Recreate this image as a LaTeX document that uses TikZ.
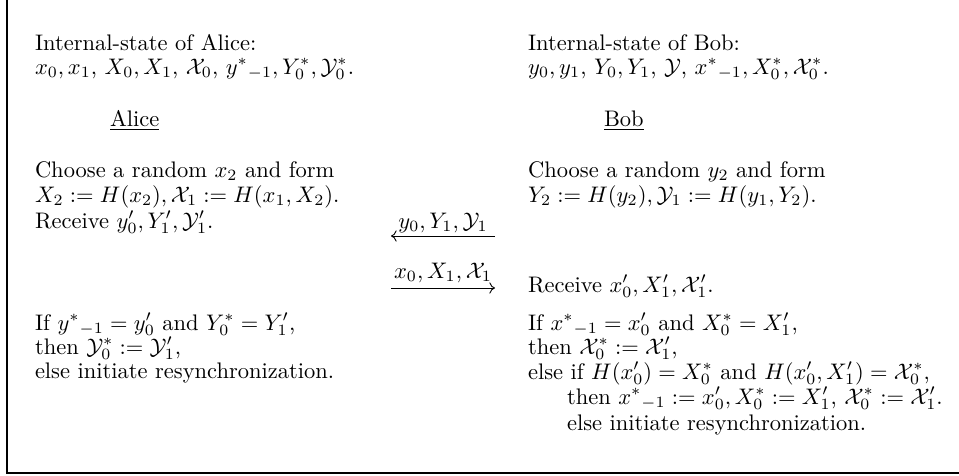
\documentclass[tikz,border=0pt]{standalone}
\usetikzlibrary{arrows.meta}
\begin{document}
\begin{tikzpicture}[x=0.4444pt,y=-0.4444pt,
  txt/.style={anchor=base west, inner sep=0pt, outer sep=0pt},
  lbl/.style={anchor=base, inner sep=0pt, outer sep=0pt},
  msg/.style={line width=0.4pt, -{To[length=2.5pt,width=5pt]}},
  frame/.style={line width=0.7pt}]
\useasboundingbox (0,0) rectangle (959,475);
% frame
\coordinate (ftl) at (7,0);
\coordinate (fbl) at (7,473);
\coordinate (fbr) at (959,473);
\draw[frame] (ftl) -- (fbl) -- (fbr);
% Alice internal state
\node[txt] (a1) at (35,50) {Internal-state of Alice:};
\node[txt] (a2) at (35,74) {$x_0,x_1$, $X_0,X_1$, $\mathcal{X}_0$, $y^*{}_{-1},Y^*_0,\mathcal{Y}^*_0$.};
\node[txt] (alice) at (110,126) {\underline{Alice}};
% Bob internal state
\node[txt] (b1) at (528,50) {Internal-state of Bob:};
\node[txt] (b2) at (528,74) {$y_0,y_1$, $Y_0,Y_1$, $\mathcal{Y}$, $x^*{}_{-1},X^*_0,\mathcal{X}^*_0$.};
\node[txt] (bob) at (604,126) {\underline{Bob}};
% step 1
\node[txt] (a3) at (35,177) {Choose a random $x_2$ and form};
\node[txt] (a4) at (35,202) {$X_2:=H(x_2),\mathcal{X}_1:=H(x_1,X_2)$.};
\node[txt] (a5) at (35,228) {Receive $y'_0,Y'_1,\mathcal{Y}'_1$.};
\node[txt] (b3) at (528,177) {Choose a random $y_2$ and form};
\node[txt] (b4) at (528,202) {$Y_2:=H(y_2),\mathcal{Y}_1:=H(y_1,Y_2)$.};
\node[txt] (b5) at (528,292) {Receive $x'_0,X'_1,\mathcal{X}'_1$.};
% messages
\coordinate (m1r) at (495,236);
\coordinate (m1l) at (391,236);
\draw[msg] (m1r) -- (m1l);
\node[lbl] (m1t) at (443,228) {$y_0,Y_1,\mathcal{Y}_1$};
\coordinate (m2l) at (391,288);
\coordinate (m2r) at (495,288);
\draw[msg] (m2l) -- (m2r);
\node[lbl] (m2t) at (443,278) {$x_0,X_1,\mathcal{X}_1$};
% Alice check
\node[txt] (a6) at (35,330) {If $y^*{}_{-1}=y'_0$ and $Y^*_0=Y'_1$,};
\node[txt] (a7) at (35,354) {then $\mathcal{Y}^*_0:=\mathcal{Y}'_1$,};
\node[txt] (a8) at (35,378) {else initiate resynchronization.};
% Bob check
\node[txt] (b6) at (528,330) {If $x^*{}_{-1}=x'_0$ and $X^*_0=X'_1$,};
\node[txt] (b7) at (528,354) {then $\mathcal{X}^*_0:=\mathcal{X}'_1$,};
\node[txt] (b8) at (528,379) {else if $H(x'_0)=X^*_0$ and $H(x'_0,X'_1)=\mathcal{X}^*_0$,};
\node[txt] (b9) at (567,404) {then $x^*{}_{-1}:=x'_0,X^*_0:=X'_1$, $\mathcal{X}^*_0:=\mathcal{X}'_1$.};
\node[txt] (b10) at (567,430) {else initiate resynchronization.};
\end{tikzpicture}
\end{document}
